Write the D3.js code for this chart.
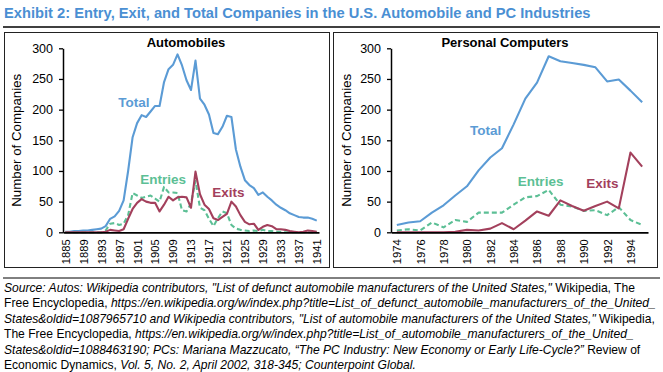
<!DOCTYPE html>
<html><head><meta charset="utf-8">
<script src="https://cdn.jsdelivr.net/npm/d3@7"></script>
<style>
body{margin:0;background:#fff}
svg{display:block;font-family:"Liberation Sans",Arial,Helvetica,sans-serif}
</style>
</head><body>
<svg id="c" width="663" height="372"></svg>
<script>
// ---------- DATA ----------
const autoYears = [1885,1886,1887,1888,1889,1890,1891,1892,1893,1894,1895,1896,1897,1898,1899,1900,1901,1902,1903,1904,1905,1906,1907,1908,1909,1910,1911,1912,1913,1914,1915,1916,1917,1918,1919,1920,1921,1922,1923,1924,1925,1926,1927,1928,1929,1930,1931,1932,1933,1934,1935,1936,1937,1938,1939,1940,1941];
const autoTotal   = [1,1,2,2,3,3,4,5,6,10,22,26,35,52,100,155,178,191,188,197,206,206,245,266,273,290,272,248,232,280,218,208,192,162,160,172,190,188,135,107,85,77,72,61,65,58,52,45,40,36,31,28,25,24,24,22,19];
const autoEntries = [0,0,0,0,0,0,0,0,0,3,14,15,12,14,28,64,60,56,58,60,55,50,74,65,65,64,36,34,47,84,40,36,22,10,23,34,31,12,6,4,3,2,3,2,4,2,2,1,1,0,0,0,0,0,0,0,0];
const autoExits   = [0,0,0,0,0,0,0,0,0,1,4,3,2,5,22,38,48,54,50,48,48,34,45,58,52,57,58,57,40,99,62,45,38,23,20,25,30,50,42,28,17,13,14,4,9,12,10,5,5,4,2,1,0,1,3,2,1];

const pcYears   = [1974,1975,1976,1977,1978,1979,1980,1981,1982,1983,1984,1985,1986,1987,1988,1989,1990,1991,1992,1993,1994,1995];
const pcTotal   = [12,16,18,32,44,60,75,101,122,137,176,218,244,287,279,276,273,269,246,249,231,212];
const pcEntries = [3,5,3,16,8,20,17,32,32,32,45,57,59,69,45,42,35,36,28,41,20,12];
const pcExits   = [0,0,0,0,0,1,4,3,6,15,5,19,34,27,52,43,35,43,50,39,130,107];

const autoTickLabels = [1885,1889,1893,1897,1901,1905,1909,1913,1917,1921,1925,1929,1933,1937,1941];
const pcTickLabels   = [1974,1976,1978,1980,1982,1984,1986,1988,1990,1992,1994];
const yTicks = [0,50,100,150,200,250,300];

const seriesNames = ["Total","Entries","Exits"];

// series label anchors (in data units: year, value)
const autoLabelPos = [[1900.3,204],[1906.8,79],[1921.35,57]];
const pcLabelPos   = [[1981.6,159],[1986.3,75],[1991.6,73]];

// ---------- STYLE ----------
const C = {total:"#5b9bd5", entries:"#5cbf95", exits:"#a3405c", title:"#4a8fd3"};
const colors = [C.total, C.entries, C.exits];

const svg = d3.select("#c");

// Title
svg.append("text").attr("x",4).attr("y",17.5)
  .attr("font-size",14.7).attr("font-weight","bold").attr("fill",C.title)
  .text("Exhibit 2: Entry, Exit, and Total Companies in the U.S. Automobile and PC Industries");
svg.append("line").attr("x1",3).attr("x2",660).attr("y1",27).attr("y2",27)
  .attr("stroke","#000").attr("stroke-width",1.5);

// Panel boxes
[[4,329],[333,657]].forEach(([a,b])=>{
  svg.append("rect").attr("x",a+0.5).attr("y",32.5).attr("width",b-a).attr("height",235)
    .attr("fill","none").attr("stroke","#222").attr("stroke-width",1);
});

function panel(opt){
  const {years, series, ticks, x0, x1, title, titleX, yTitleX, labelPos} = opt;
  const yTop = 48.3, yBot = 232.3;
  const x = d3.scaleLinear().domain([years[0]-0.5, years[years.length-1]+0.5]).range([x0,x1]);
  const y = d3.scaleLinear().domain([0,300]).range([yBot,yTop]);
  const g = svg.append("g");

  // lines
  const line = d3.line().x((d,i)=>x(years[i])).y(d=>y(d));
  series.forEach((s,k)=>{
    g.append("path").datum(s).attr("d",line)
      .attr("fill","none").attr("stroke",colors[k]).attr("stroke-width",2.1)
      .attr("stroke-linejoin","round")
      .attr("stroke-dasharray", k===1 ? "5,3" : null);
  });

  // y axis
  const ya = g.append("g").attr("transform",`translate(${x0},0)`)
    .call(d3.axisLeft(y).tickValues(yTicks).tickSize(4).tickSizeOuter(0).tickPadding(6));
  ya.select(".domain").attr("stroke","#000").attr("stroke-width",1.5);
  ya.selectAll(".tick line").attr("stroke","#000").attr("stroke-width",1.3);
  ya.selectAll(".tick text").attr("font-size",12.5).attr("fill","#000")
    .style("font-family",'"Liberation Sans",Arial,sans-serif');

  // x axis
  const xa = g.append("g").attr("transform",`translate(0,${yBot})`)
    .call(d3.axisBottom(x).tickValues(ticks).tickFormat(d3.format("d")).tickSize(0).tickSizeOuter(0));
  xa.select(".domain").attr("stroke","#000").attr("stroke-width",1.8);
  xa.selectAll(".tick text")
    .attr("transform","rotate(-90)").attr("text-anchor","end")
    .attr("x",-7).attr("y",0).attr("dy","0.35em")
    .attr("font-size",11.2).attr("fill","#000")
    .style("font-family",'"Liberation Sans",Arial,sans-serif');

  // panel title
  g.append("text").attr("x",titleX).attr("y",47).attr("text-anchor","middle")
    .attr("font-size",13).attr("font-weight","bold").attr("fill","#000").text(title);

  // y axis title
  g.append("text").attr("transform",`translate(${yTitleX},${(yTop+yBot)/2}) rotate(-90)`)
    .attr("text-anchor","middle").attr("dy","0.35em")
    .attr("font-size",13.3).attr("fill","#000").text("Number of Companies");

  // series labels
  seriesNames.forEach((n,k)=>{
    g.append("text").attr("x",x(labelPos[k][0])).attr("y",y(labelPos[k][1]))
      .attr("text-anchor","middle").attr("font-size",13.5).attr("font-weight","bold")
      .attr("fill",colors[k]).text(n);
  });
}

panel({years:autoYears, series:[autoTotal,autoEntries,autoExits], ticks:autoTickLabels,
  x0:63, x1:319, title:"Automobiles", titleX:186, yTitleX:16.7, labelPos:autoLabelPos});
panel({years:pcYears, series:[pcTotal,pcEntries,pcExits], ticks:pcTickLabels,
  x0:391, x1:648, title:"Personal Computers", titleX:505, yTitleX:346.7, labelPos:pcLabelPos});

// Source
svg.append("line").attr("x1",3).attr("x2",660).attr("y1",278).attr("y2",278)
  .attr("stroke","#000").attr("stroke-width",1);

const src = [
  [["i","Source: Autos: Wikipedia contributors, \"List of defunct automobile manufacturers of the United States,\""],["r"," Wikipedia, The"]],
  [["r","Free Encyclopedia, "],["i","https://en.wikipedia.org/w/index.php?title=List_of_defunct_automobile_manufacturers_of_the_United_"]],
  [["i","States&oldid=1087965710 and Wikipedia contributors, \"List of automobile manufacturers of the United States,\""],["r"," Wikipedia,"]],
  [["r","The Free Encyclopedia, "],["i","https://en.wikipedia.org/w/index.php?title=List_of_automobile_manufacturers_of_the_United_"]],
  [["i","States&oldid=1088463190; PCs: Mariana Mazzucato, \u201CThe PC Industry: New Economy or Early Life-Cycle?\u201D"],["r"," Review of"]],
  [["r","Economic Dynamics, "],["i","Vol. 5, No. 2, April 2002, 318-345; Counterpoint Global."]]
];
src.forEach((ln,i)=>{
  const t = svg.append("text").attr("x",4).attr("y",292+i*15.4).attr("font-size",12.1).attr("fill","#000");
  ln.forEach(([s,txt])=>{
    t.append("tspan").attr("font-style", s==="i" ? "italic" : "normal").text(txt);
  });
});
</script>
</body></html>
